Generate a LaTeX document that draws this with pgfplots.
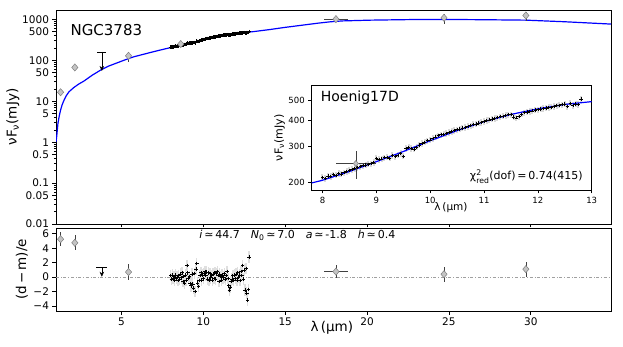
\documentclass[border=0pt]{standalone}
\usepackage{amsmath}
\usepackage{fontspec}
\setmainfont{DejaVu Sans}
\usepackage{pgfplots}
\pgfplotsset{compat=1.18}
\usepackage{pgfplotstable}
\usetikzlibrary{arrows.meta}
\definecolor{modelblue}{HTML}{0000FF}
\definecolor{photfill}{HTML}{C4C4C4}
\definecolor{photedge}{HTML}{7F7F7F}
\definecolor{zeroline}{HTML}{A0A0A0}

% spectrum: wavelength, flux (mJy), residual
\pgfplotstableread{
x f r
8.00 212 0.2
8.05 209 -0.3
8.10 215 0.3
8.15 214 -0.2
8.20 218 0.1
8.25 217 -0.4
8.30 221 0.3
8.35 220 -0.2
8.40 223 0.0
8.45 226 -0.5
8.50 229 0.2
8.55 231 -0.3
8.60 234 0.4
8.65 236 -0.1
8.70 238 0.6
8.75 241 -0.6
8.80 243 0.1
8.85 245 -0.8
8.90 246 0.3
8.95 250 -0.4
9.00 262 1.6
9.05 258 0.6
9.10 260 -0.2
9.15 263 0.1
9.20 265 -0.9
9.25 262 -1.2
9.30 270 0.4
9.35 266 -1.0
9.40 271 -1.5
9.45 276 0.5
9.50 268 -2.0
9.55 292 1.1
9.60 296 1.9
9.65 292 -0.8
9.70 290 -1.3
9.75 296 -0.5
9.80 303 0.2
9.85 309 0.6
9.90 313 -0.4
9.95 318 0.3
10.00 321 -0.2
10.05 326 0.5
10.10 332 0.8
10.15 336 0.3
10.20 340 0.7
10.25 342 -0.3
10.30 345 0.6
10.35 349 -0.4
10.40 353 0.5
10.45 356 -0.1
10.50 359 0.2
10.55 362 -0.5
10.60 366 0.4
10.65 369 -0.2
10.70 373 0.6
10.75 376 -0.3
10.80 381 0.5
10.85 383 0.8
10.90 387 0.2
10.95 390 -0.6
11.00 394 0.4
11.05 398 0.1
11.10 401 -0.4
11.15 405 0.3
11.20 408 -0.1
11.25 411 0.0
11.30 415 0.5
11.35 418 -0.3
11.40 421 0.2
11.45 425 0.8
11.50 425 -0.2
11.55 414 -1.2
11.60 410 -1.8
11.65 415 -1.4
11.70 427 -0.6
11.75 434 -0.3
11.80 438 0.2
11.85 441 -0.5
11.90 443 0.3
11.95 447 -0.2
12.00 449 0.4
12.05 452 -0.4
12.10 455 0.6
12.15 457 0.0
12.20 460 0.3
12.25 462 -0.5
12.30 466 0.8
12.35 469 0.2
12.40 472 1.6
12.45 474 -0.3
12.50 478 1.0
12.55 465 -1.8
12.60 482 1.2
12.65 470 -2.2
12.70 478 -3.2
12.75 476 -1.7
12.80 505 2.8
}\spec

\pgfplotsset{
  sedaxis/.style={
    scale only axis, anchor=south west,
    axis line style={line width=0.8pt},
    tick style={line width=0.7pt, black},
    tick align=outside, tick pos=left,
    major tick length=3.5pt, minor tick length=2pt,
    /pgf/number format/assume math mode=true,
    tick label style={font=\fontsize{10.5}{12}\selectfont},
    label style={font=\fontsize{13.5}{15}\selectfont},
  },
  phot/.style={only marks, mark=diamond*, mark size=3.6pt,
    mark options={fill=photfill, draw=photedge, line width=0.5pt, xscale=1.15},
    error bars/error bar style={black!75, line width=0.6pt},
    error bars/error mark=none},
  model/.style={modelblue, line width=1.2pt, mark=none},
  specpts/.style={only marks, mark=+, mark size=1.8pt, black, line width=0.7pt},
}

\begin{document}
\begin{tikzpicture}
\useasboundingbox (0,0) rectangle (623pt,346pt);

% main SED panel
\begin{axis}[sedaxis, at={(56pt,122pt)}, width=555pt, height=214pt,
  xmin=1, xmax=34.9, ymode=log, ymin=0.01, ymax=1700,
  xtick={5,10,15,20,25,30}, xticklabels={},
  ytick={0.01,0.05,0.1,0.5,1,5,10,50,100,500,1000},
  yticklabels={0.01,0.05,0.1,0.5,1,5,10,50,100,500,1000},
  minor ytick={0.02,0.03,0.04,0.06,0.07,0.08,0.09,0.2,0.3,0.4,0.6,0.7,0.8,0.9,2,3,4,6,7,8,9,20,30,40,60,70,80,90,200,300,400,600,700,800,900},
  ylabel={νF\textsubscript{ν}(mJy)},
  ylabel style={at={(axis description cs:-0.0775,0.5)}, anchor=center}]
  \addplot[model] coordinates {(1.0,1.0)(1.04,1.35)(1.12,2.9)(1.2,4.4)(1.28,6.1)(1.38,8.3)(1.49,10.6)(1.62,13.5)(1.79,17)(2.09,21.7)(2.4,26.5)(2.7,31)(3.2,43)(3.72,57.6)(4.2,72)(4.74,87)(5.25,104)(5.75,122)(6.5,146)(7.2,172)(8.0,205)(8.5,226)(9.0,252)(9.5,282)(10.0,318)(10.5,356)(11.0,393)(11.5,426)(12.0,453)(12.5,478)(13.0,500)(14.0,562)(15.0,640)(16.0,720)(17.0,810)(17.75,875)(18.5,920)(20.2,960)(22.5,990)(24.6,1000)(27,985)(29.7,960)(32,880)(34.9,770)};
  \addplot[specpts] table[x=x,y=f] {\spec};
  \addplot[phot, error bars/.cd, x dir=both, x explicit, y dir=both, y explicit] coordinates {
    (1.28,16.6) (2.15,67) (5.43,129) += (0,32) -= (0,37) (8.62,250)
    (18.1,1017) +- (0.75,0) (24.7,1095) += (0,255) -= (0,325) (29.7,1250) += (0,280) -= (0,325)};
  % upper limit
  \addplot[black, line width=0.6pt] coordinates {(3.52,161)(4.08,161)};
  \addplot[black, line width=0.6pt, -{Stealth[length=5pt,width=4.5pt]}] coordinates {(3.8,161)(3.8,55)};
  \node[anchor=west, font=\fontsize{15}{17}\selectfont] at (rel axis cs:0.02,0.906) {NGC3783};
\end{axis}

% residual panel
\begin{axis}[sedaxis, at={(56pt,35pt)}, width=555pt, height=83pt,
  xmin=1, xmax=34.9, ymin=-4.7, ymax=6.8,
  xtick={5,10,15,20,25,30},
  ytick={-4,-2,0,2,4,6}, yticklabels={−4,−2,0,2,4,6},
  xlabel={λ\,(μm)}, ylabel={(d\,−\,m)/e},
  xlabel style={at={(axis description cs:0.497,-0.205)}, anchor=center},
  ylabel style={at={(axis description cs:-0.0613,0.5)}, anchor=center}]
  \addplot[zeroline, dash dot, line width=0.9pt] coordinates {(1,0)(34.9,0)};
  \addplot[specpts, error bars/.cd, y dir=both, y fixed=0.8, error mark=none,
    error bar style={gray!25, line width=1.4pt}] table[x=x,y=r] {\spec};
  \addplot[phot, error bars/.cd, x dir=both, x explicit, y dir=both, y explicit] coordinates {
    (1.28,5.25) +- (0,1.0) (2.15,4.75) +- (0,1.05) (5.43,0.7) +- (0,1.15)
    (18.1,0.76) +- (0.75,0.95) (24.7,0.4) +- (0,1.05) (29.7,1.1) +- (0,1.05)};
  \addplot[black, line width=0.6pt] coordinates {(3.45,1.3)(4.1,1.3)};
  \addplot[black, line width=0.6pt, -{Stealth[length=5pt,width=4.5pt]}] coordinates {(3.8,1.3)(3.8,0.05)};
  \node[anchor=west, font=\fontsize{11}{13}\selectfont] at (rel axis cs:0.252,0.916)
    {\textit{i}\,≃\,44.7\quad \textit{N}\textsubscript{0}\,≃\,7.0\quad \textit{a}\,≃\,-1.8\quad \textit{h}\,≃\,0.4};
\end{axis}

% inset: spectrum zoom
\begin{axis}[sedaxis, at={(311.7pt,156pt)}, width=280pt, height=104.3pt,
  axis background/.style={fill=white},
  xmin=7.8, xmax=13, ymode=log, ymin=184, ymax=586,
  xtick={8,9,10,11,12,13},
  ytick={200,300,400,500}, yticklabels={200,300,400,500},
  minor ytick={},
  tick label style={font=\fontsize{8.5}{10}\selectfont},
  xlabel={λ\,(μm)}, ylabel={νF\textsubscript{ν}(mJy)},
  xlabel style={font=\fontsize{10.5}{12}\selectfont, at={(axis description cs:0.4975,-0.17)}, anchor=center},
  ylabel style={font=\fontsize{11}{13}\selectfont, at={(axis description cs:-0.115,0.5)}, anchor=center}]
  \addplot[specpts, mark size=1.6pt, error bars/.cd, y dir=both, y fixed relative=0.035, error mark=none,
    error bar style={gray!30, line width=2pt}] table[x=x,y=f] {\spec};
  \addplot[model] coordinates {(7.8,199)(8.0,205)(8.5,226)(9.0,252)(9.5,282)(10.0,318)(10.5,356)(11.0,393)(11.5,426)(12.0,453)(12.5,476)(13.0,491)};
  \addplot[phot, mark size=3pt, error bars/.cd, x dir=both, x explicit, y dir=both, y explicit] coordinates {
    (8.62,247) += (0.375,37) -= (0.375,38)};
  \node[anchor=west, font=\fontsize{14}{16}\selectfont] at (rel axis cs:0.02,0.889) {Hoenig17D};
  \node[anchor=east, font=\fontsize{11}{13}\selectfont] at (rel axis cs:0.98,0.128)
    {χ${}^{\text{2}}_{\text{red}}$(dof)\,=\,0.74(415)};
\end{axis}
\end{tikzpicture}
\end{document}
